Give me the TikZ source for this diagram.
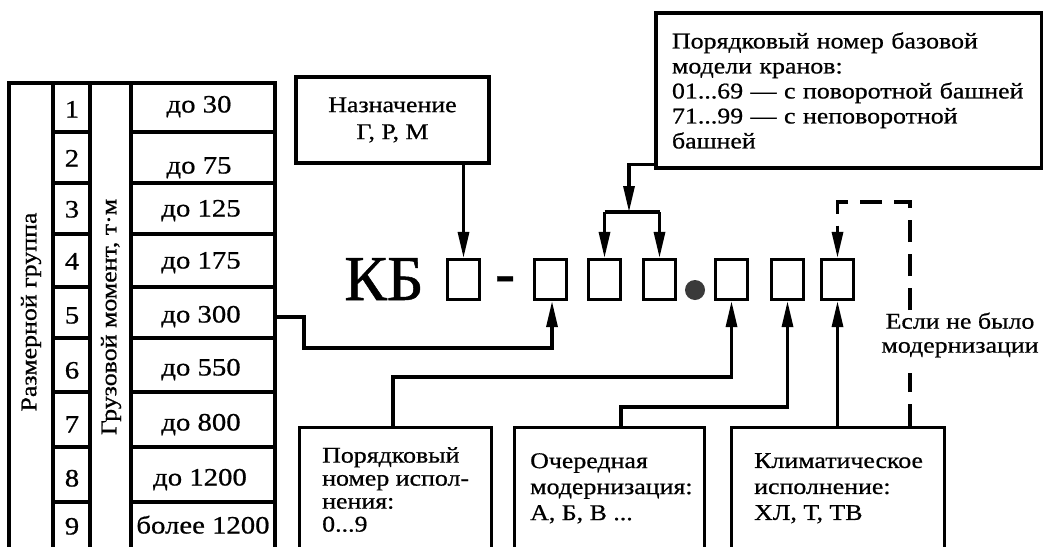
\documentclass[tikz,border=0pt]{standalone}
\usepackage{fontspec}
\setmainfont{Liberation Serif}[FakeStretch=1.15,FakeBold=0.7]
\newfontfamily\kbfont{Liberation Serif}[FakeBold=0.8]
\usetikzlibrary{arrows.meta}
\definecolor{dotgray}{HTML}{3A3A3A}
\begin{document}
\begin{tikzpicture}[x=1pt,y=-1pt,
  ln/.style={line width=3.2pt},
  box/.style={draw, line width=3.2pt, inner sep=0pt},
  cell/.style={draw, line width=3.2pt, minimum width=32pt, minimum height=40pt, inner sep=0pt},
  conn/.style={line width=3.2pt, -{Triangle[length=26pt,width=11pt]}},
  dline/.style={line width=3.2pt, dash pattern=on 22pt off 12pt},
  lbl/.style={font=\fontsize{22.5}{25}\selectfont, inner sep=0pt, align=left},
  tab/.style={font=\fontsize{25}{28}\selectfont, inner sep=0pt, anchor=base},
]
\fill[white] (0,0) rectangle (1043,546);
\useasboundingbox (0,0) rectangle (1043,546);
\clip (0,0) rectangle (1043,546);

% ---------- table ----------
\draw[ln] (9,560) -- (9,83) -- (275,83) -- (275,560);
\foreach \x in {53,90,131} \draw[ln] (\x,83) -- (\x,560);
\foreach \y in {132,183,234,287,338,392,447,502} {
  \draw[ln] (53,\y) -- (90,\y);
  \draw[ln] (131,\y) -- (275,\y);
}
\foreach \i/\y in {1/117.5,2/166.5,3/217.5,4/269.5,5/323.5,6/378.5,7/432.5,8/486.5,9/534.5}
  \node[tab] (n\i) at (72,\y) {\i};
\node[tab] (v1) at (199,112.5) {до 30};
\node[tab] (v2) at (199,173.5) {до 75};
\node[tab] (v3) at (201,216.5) {до 125};
\node[tab] (v4) at (201,268.5) {до 175};
\node[tab] (v5) at (201,322.5) {до 300};
\node[tab] (v6) at (201,375.5) {до 550};
\node[tab] (v7) at (201,430.5) {до 800};
\node[tab] (v8) at (200,485.5) {до 1200};
\node[tab] (v9) at (203,533.5) {более 1200};
\node[lbl, rotate=90] (rg) at (31,312) {Размерной группа};
\node[lbl, rotate=90] (gm) at (111,317) {Грузовой момент, т·м};

% ---------- code line ----------
\node[font=\kbfont\fontsize{64}{64}\selectfont, inner sep=0pt, anchor=base west] (kb) at (344,300) {КБ};
\node[font=\kbfont\fontsize{60}{60}\selectfont, inner sep=0pt, anchor=base] (hy) at (505,293) {-};
\node[cell] (A) at (463.5,279.5) {};
\node[cell] (B) at (550.5,279.5) {};
\node[cell] (C) at (604.5,279.5) {};
\node[cell] (D) at (659.5,279.5) {};
\node[circle, fill=dotgray, minimum size=20pt, inner sep=0pt] (dot) at (695,290) {};
\node[cell] (E) at (731.5,279.5) {};
\node[cell] (F) at (787.5,279.5) {};
\node[cell] (G) at (837.5,279.5) {};

% ---------- boxes ----------
\node[box, minimum width=193pt, minimum height=86pt, lbl, font=\fontsize{22.5}{27}\selectfont, align=center] (nazn) at (392.5,120) {Назначение\\Г,~Р,~М};
\node[box, minimum width=386pt, minimum height=155pt, lbl, text width=354pt] (base) at (849,90.5)
  {Порядковый номер базовой\\модели кранов:\\01...69 — с~поворотной башней\\71...99 — с~неповоротной\\башней};
\node[box, minimum width=192pt, minimum height=160pt, anchor=north west] (p1) at (298,426) {};
\node[box, minimum width=190pt, minimum height=160pt, anchor=north west] (p2) at (513,426) {};
\node[box, minimum width=213pt, minimum height=160pt, anchor=north west] (p3) at (730,426) {};
\node[lbl, font=\fontsize{22.5}{23}\selectfont, anchor=north west] (t1) at (322,447) {Порядковый\\номер испол-\\нения:\\0...9};
\node[lbl, font=\fontsize{22.5}{26}\selectfont, anchor=north west] (t2) at (530,453) {Очередная\\модернизация:\\А,~Б,~В ...};
\node[lbl, font=\fontsize{22.5}{26}\selectfont, anchor=north west] (t3) at (754,453) {Климатическое\\исполнение:\\ХЛ,~Т,~ТВ};
\node[lbl, font=\fontsize{22.5}{24}\selectfont, align=center] (nm) at (960,335) {Если не было\\модернизации};

% ---------- connectors ----------
\draw[conn] (nazn.south -| A.north) -- (A.north);
\coordinate (split) at (629,212);
\draw[conn] ([yshift=5pt]base.south west) -| (split);
\draw[ln] (C.north |- split) -- (D.north |- split);
\draw[conn] (C.north |- split) -- (C.north);
\draw[conn] (D.north |- split) -- (D.north);

\coordinate (r5) at (275,317);
\draw[conn] (r5) -- ++(29,0) -- ++(0,31) -| ([xshift=1.5pt]B.south);
\draw[conn] ([xshift=95pt]p1.north west) -- ++(0,-49) -| (E.south);
\draw[conn] ([xshift=108pt]p2.north west) -- ++(0,-19) -| (F.south);
\draw[conn] (G.south |- p3.north) -- (G.south);

\coordinate (d0) at ([xshift=180pt]p3.north west);
\coordinate (d1) at (910,373);
\coordinate (d2) at (910,310);
\coordinate (d3) at (910,202);
\draw[dline] (d0) -- (d1);
\draw[dline, -{Triangle[length=26pt,width=11pt]}] (d2) -- (d3) -| (G.north);
\end{tikzpicture}
\end{document}
